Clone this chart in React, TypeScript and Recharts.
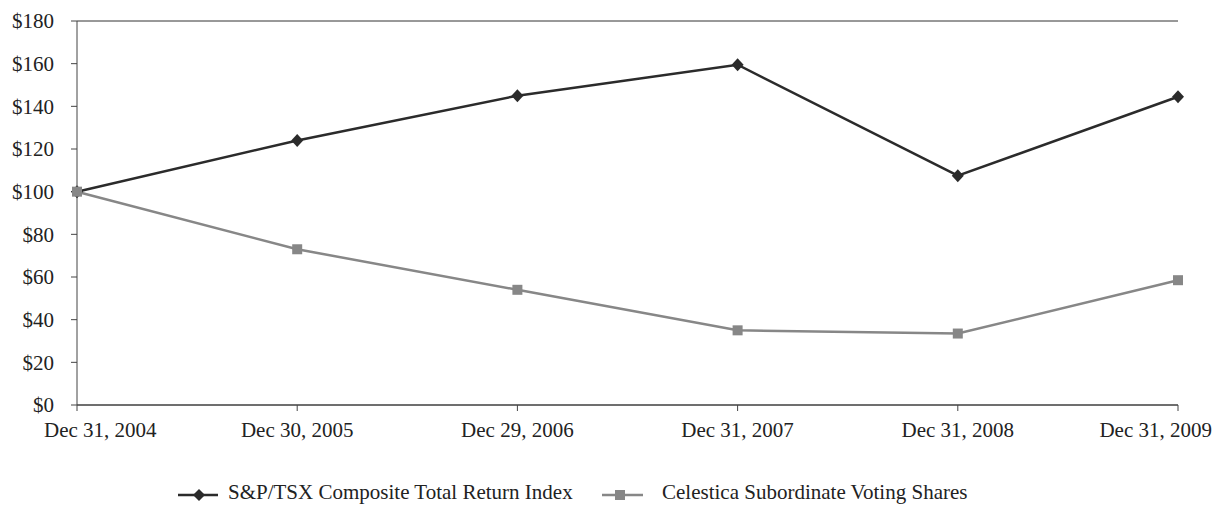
import React from 'react'
import { LineChart, Line, XAxis, YAxis, CartesianGrid } from 'recharts'

const dates = ['Dec 31, 2004', 'Dec 30, 2005', 'Dec 29, 2006', 'Dec 31, 2007', 'Dec 31, 2008', 'Dec 31, 2009']
const tsxValues = [100, 124, 145, 159.5, 107.5, 144.5]
const celesticaValues = [100, 73, 54, 35, 33.5, 58.5]
const yTicks = [0, 20, 40, 60, 80, 100, 120, 140, 160, 180]

const tsxName = 'S&P/TSX Composite Total Return Index'
const celesticaName = 'Celestica Subordinate Voting Shares'

const TSX_COLOR = '#2b2b2b'
const CEL_COLOR = '#878787'
const FONT = '"Liberation Serif", "Times New Roman", serif'
const CHART_W = 1215
const CHART_H = 506

const data = dates.map((date, i) => ({
  date,
  tsx: tsxValues[i],
  celestica: celesticaValues[i],
}))

function Diamond(props: any) {
  const { cx, cy } = props
  if (cx == null || cy == null) return null
  return (
    <path
      d={`M${cx},${cy - 6.5} L${cx + 6},${cy} L${cx},${cy + 6.5} L${cx - 6},${cy} Z`}
      fill={TSX_COLOR}
    />
  )
}

function Square(props: any) {
  const { cx, cy } = props
  if (cx == null || cy == null) return null
  return <rect x={cx - 5} y={cy - 5} width={10} height={10} fill={CEL_COLOR} />
}

// first and last date labels are pulled in so they stay inside the page, like the original
function DateTick(props: any) {
  const { x, y, payload, index } = props
  let anchor: 'start' | 'middle' | 'end' = 'middle'
  let tx = x
  if (index === 0) {
    anchor = 'start'
    tx = 44
  } else if (index === dates.length - 1) {
    anchor = 'end'
    tx = CHART_W - 3
  }
  return (
    <text x={tx} y={y} dy="0.71em" textAnchor={anchor} fontFamily={FONT} fontSize={21} fill="#222">
      {payload.value}
    </text>
  )
}

const legendText = {
  position: 'absolute' as const,
  top: 483,
  fontSize: 21,
  lineHeight: '18px',
  color: '#222',
  whiteSpace: 'nowrap' as const,
}

export default function App() {
  return (
    <div style={{ position: 'relative', width: CHART_W, height: CHART_H, fontFamily: FONT, overflow: 'hidden' }}>
      <style>{'body { margin: 0; }'}</style>
      <LineChart
        width={CHART_W}
        height={CHART_H}
        data={data}
        margin={{ top: 21, right: 37, left: 0, bottom: 0 }}
      >
        <CartesianGrid vertical={false} stroke="#333" strokeWidth={1} />
        <XAxis
          dataKey="date"
          height={101}
          tick={<DateTick />}
          tickSize={6}
          tickMargin={11}
          stroke="#444"
          interval={0}
        />
        <YAxis
          yAxisId="left"
          domain={[0, 180]}
          ticks={yTicks}
          width={77}
          tick={{ fontFamily: FONT, fontSize: 21, fill: '#222' }}
          tickSize={6}
          tickMargin={17}
          stroke="#444"
          tickFormatter={(v) => `$${v}`}
        />
        <YAxis
          yAxisId="right"
          orientation="right"
          domain={[0, 180]}
          width={0}
          tick={false}
          tickLine={false}
          stroke="#444"
        />
        <Line
          yAxisId="left"
          type="linear"
          dataKey="tsx"
          name={tsxName}
          stroke={TSX_COLOR}
          strokeWidth={2.5}
          dot={<Diamond />}
          activeDot={false}
          isAnimationActive={false}
        />
        <Line
          yAxisId="left"
          type="linear"
          dataKey="celestica"
          name={celesticaName}
          stroke={CEL_COLOR}
          strokeWidth={2.5}
          dot={<Square />}
          activeDot={false}
          isAnimationActive={false}
        />
      </LineChart>

      <svg width={CHART_W} height={20} style={{ position: 'absolute', left: 0, top: 485 }}>
        <line x1={178} y1={10} x2={218} y2={10} stroke={TSX_COLOR} strokeWidth={2.5} />
        <path d="M199,4 L205,10 L199,16 L193,10 Z" fill={TSX_COLOR} />
        <line x1={602} y1={10} x2={643} y2={10} stroke={CEL_COLOR} strokeWidth={2.5} />
        <rect x={615} y={5} width={10} height={10} fill={CEL_COLOR} />
      </svg>
      <span style={{ ...legendText, left: 228 }}>{tsxName}</span>
      <span style={{ ...legendText, left: 662 }}>{celesticaName}</span>
    </div>
  )
}
